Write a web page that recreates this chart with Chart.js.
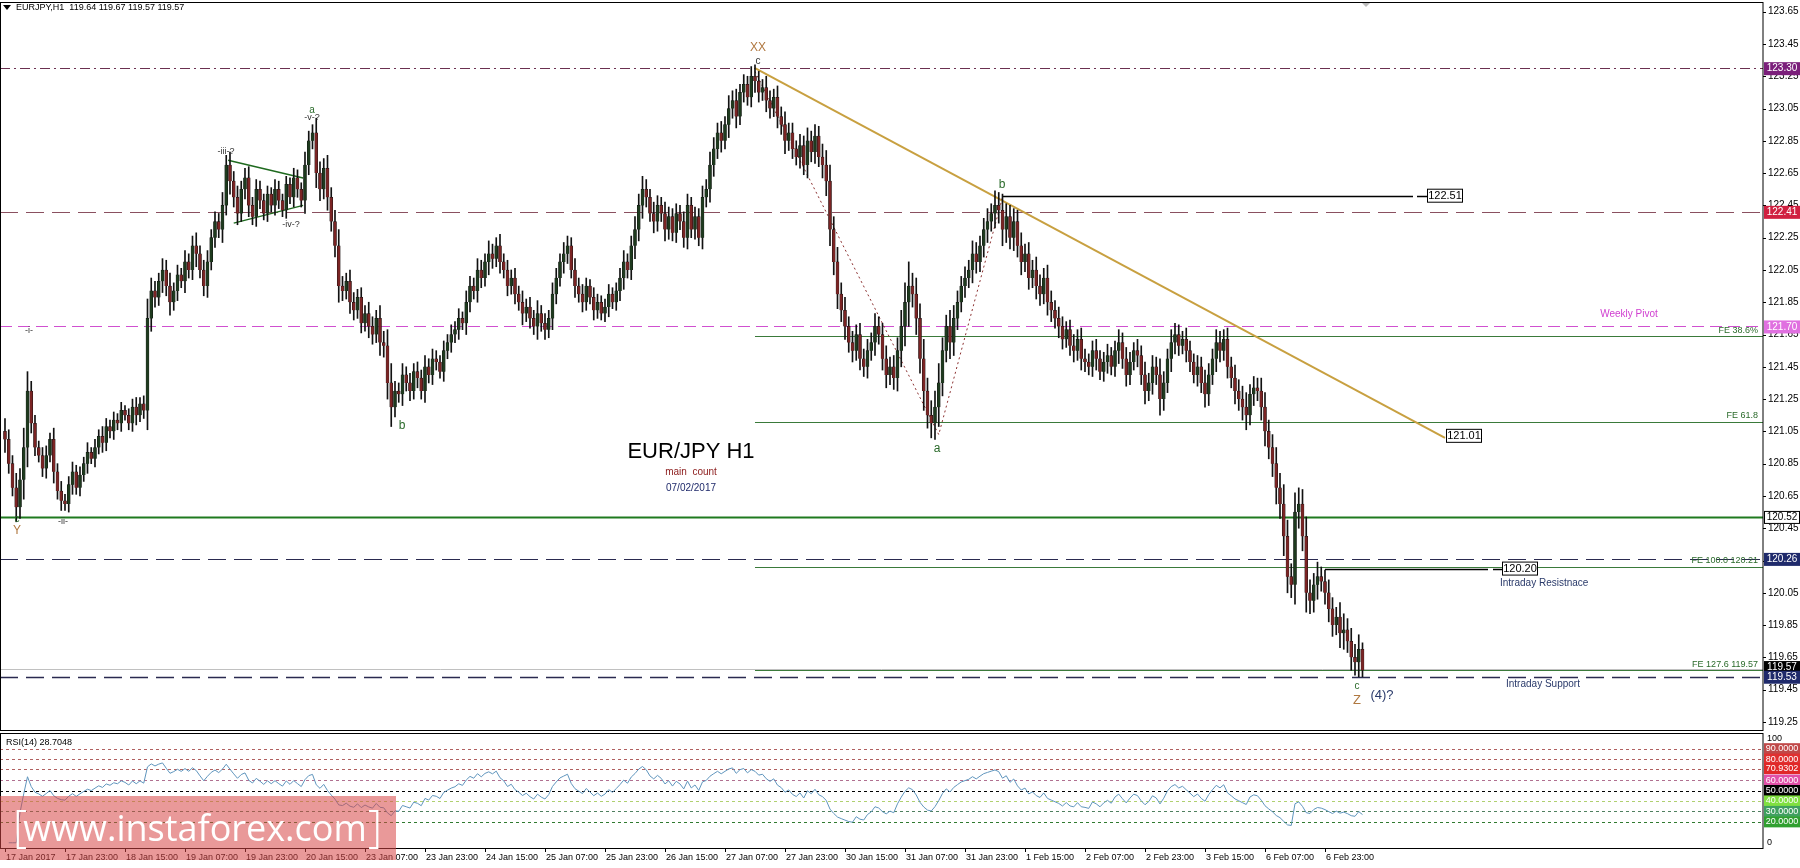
<!DOCTYPE html>
<html><head><meta charset="utf-8">
<script src="https://cdn.jsdelivr.net/npm/chart.js@4"></script>
<style>html,body{margin:0;padding:0;background:#fff;overflow:hidden}canvas{position:absolute;left:0}</style>
</head><body>
<canvas id="main" width="1800" height="733" style="top:0"></canvas>
<canvas id="rsi" width="1800" height="135" style="top:733px"></canvas>
<script>
const closes=[121.00,120.85,120.70,120.58,120.75,120.95,121.30,121.10,120.95,120.90,
120.82,120.90,121.00,120.80,120.68,120.62,120.60,120.72,120.80,120.70,
120.78,120.85,120.92,120.88,120.95,121.02,120.98,121.08,121.05,121.12,
121.10,121.18,121.15,121.10,121.20,121.15,121.22,121.18,121.75,121.92,
121.88,121.98,122.05,121.95,121.85,121.92,122.02,121.98,122.10,122.05,
122.20,122.15,122.05,121.95,122.10,122.25,122.35,122.30,122.45,122.70,
122.60,122.50,122.40,122.55,122.62,122.45,122.38,122.55,122.48,122.40,
122.52,122.45,122.55,122.48,122.42,122.58,122.50,122.62,122.55,122.48,
122.70,122.85,122.90,122.65,122.55,122.68,122.50,122.35,122.20,121.95,
121.92,121.98,121.85,121.80,121.88,121.72,121.78,121.70,121.65,121.75,
121.60,121.58,121.35,121.20,121.30,121.28,121.40,121.35,121.30,121.42,
121.38,121.30,121.45,121.40,121.50,121.48,121.42,121.55,121.60,121.65,
121.68,121.75,121.72,121.85,121.95,121.92,122.05,122.00,122.10,122.15,
122.12,122.20,122.10,122.05,121.95,122.00,121.90,121.85,121.78,121.82,
121.75,121.70,121.78,121.72,121.68,121.75,121.90,122.00,122.10,122.15,
122.20,122.05,121.95,121.90,121.85,121.95,121.88,121.80,121.85,121.78,
121.82,121.90,121.85,121.92,122.00,122.10,122.05,122.20,122.30,122.45,
122.55,122.50,122.40,122.35,122.45,122.40,122.30,122.38,122.28,122.40,
122.35,122.25,122.45,122.30,122.38,122.25,122.50,122.55,122.70,122.80,
122.90,122.85,122.95,123.05,123.10,123.00,123.15,123.20,123.12,123.25,
123.22,123.15,123.18,123.10,123.05,123.12,123.00,122.95,122.85,122.90,
122.80,122.75,122.82,122.70,122.85,122.78,122.88,122.75,122.70,122.60,
122.30,122.10,121.90,121.80,121.70,121.60,121.55,121.65,121.50,121.45,
121.55,121.60,121.70,121.65,121.50,121.40,121.45,121.38,121.55,121.70,
121.85,121.95,121.90,121.75,121.50,121.30,121.15,121.10,121.20,121.35,
121.55,121.70,121.60,121.75,121.85,121.95,122.00,122.05,122.15,122.10,
122.20,122.30,122.35,122.40,122.45,122.42,122.30,122.38,122.25,122.35,
122.20,122.10,122.15,122.00,122.05,121.95,121.90,122.00,121.85,121.80,
121.75,121.70,121.62,121.68,121.58,121.55,121.62,121.50,121.48,121.45,
121.55,121.50,121.42,121.48,121.52,121.45,121.55,121.60,121.50,121.40,
121.48,121.55,121.52,121.40,121.30,121.35,121.45,121.40,121.25,121.35,
121.50,121.60,121.65,121.58,121.62,121.55,121.48,121.40,121.45,121.35,
121.28,121.40,121.50,121.60,121.55,121.62,121.45,121.38,121.30,121.25,
121.20,121.15,121.28,121.32,121.30,121.20,121.05,120.95,120.85,120.70,
120.60,120.40,120.15,120.10,120.55,120.60,120.40,120.05,120.00,120.10,
120.15,120.12,120.05,119.95,119.85,119.90,119.80,119.82,119.75,119.65,
119.62,119.70,119.57];
const wicksPips=[8,6,5,9,7,12,12,6,5,4,5,6,4,7,5,6,4,5,6,4,5,4,6,3,5,4,6,5,4,5,
4,5,3,4,5,6,4,5,12,8,6,5,7,6,8,5,6,4,7,5,6,8,5,6,7,5,6,5,8,6,
8,6,7,5,6,7,5,6,5,4,5,4,6,5,4,5,4,6,5,4,8,6,5,9,7,6,8,6,7,10,
6,5,7,6,5,6,5,7,6,5,8,7,10,12,6,5,7,5,6,5,6,5,7,5,6,5,4,6,5,6,
5,6,4,7,6,5,7,6,5,8,6,5,7,5,6,5,6,5,7,5,6,5,8,5,6,5,7,6,5,7,
6,5,7,5,6,5,4,6,5,4,5,6,4,5,6,7,5,6,8,7,8,6,5,7,6,5,7,6,5,6,
5,6,7,5,6,5,7,6,8,7,6,7,5,8,6,7,5,6,5,6,7,6,5,7,6,5,7,6,8,6,
6,5,7,6,8,6,7,6,8,9,10,8,9,7,8,6,7,6,7,6,7,6,8,6,7,8,6,7,8,10,
12,15,8,10,9,12,8,9,10,12,8,7,10,8,7,6,7,6,8,7,6,7,8,6,9,8,10,8,7,8,
7,8,6,7,6,8,7,6,8,7,6,7,6,5,6,7,6,7,6,5,6,7,5,6,7,5,6,8,6,7,
6,5,7,6,8,6,7,6,10,7,6,8,7,6,5,7,6,5,7,6,8,7,6,8,7,6,7,6,8,7,
8,9,6,7,6,8,9,7,8,10,9,12,10,8,12,10,9,12,8,7,9,6,7,8,7,6,9,10,7,8,8,9,4];
const firstOpen=121.05;
const dateLabels=['17 Jan 2017','17 Jan 23:00','18 Jan 15:00','19 Jan 07:00','19 Jan 23:00','20 Jan 15:00','23 Jan 07:00','23 Jan 23:00','24 Jan 15:00','25 Jan 07:00','25 Jan 23:00','26 Jan 15:00','27 Jan 07:00','27 Jan 23:00','30 Jan 15:00','31 Jan 07:00','31 Jan 23:00','1 Feb 15:00','2 Feb 07:00','2 Feb 23:00','3 Feb 15:00','6 Feb 07:00','6 Feb 23:00'];
const priceTicks=[123.65,123.45,123.25,123.05,122.85,122.65,122.45,122.25,122.05,121.85,121.65,121.45,121.25,121.05,120.85,120.65,120.45,120.25,120.05,119.85,119.65,119.45,119.25];
const rsiLevels=[90,80,70.9302,60,50,40,30,20];

const opens=closes.map((c,i)=>i===0?firstOpen:closes[i-1]);
const highs=closes.map((c,i)=>Math.max(c,opens[i])+wicksPips[i]/100);
const lows=closes.map((c,i)=>Math.min(c,opens[i])-wicksPips[i]/100);
const rsi=[];let ag=0,al=0;
for(let i=0;i<closes.length;i++){
  if(i===0){rsi.push(null);continue;}
  const d=closes[i]-closes[i-1],g=Math.max(d,0),l=Math.max(-d,0);
  const n=Math.min(i,14);ag=(ag*(n-1)+g)/n;al=(al*(n-1)+l)/n;
  rsi.push(al===0?100:100-100/(1+ag/al));
}
const XMIN=-1.33,XMAX=468.8;
const SM='9px "Liberation Sans", Arial, sans-serif';
const AX='10px "Liberation Sans", Arial, sans-serif';
const MD='10px "Liberation Sans", Arial, sans-serif';
Chart.defaults.font.family='"Liberation Sans", Arial, sans-serif';

function txt(ctx,s,x,y,color,font,align){ctx.save();ctx.font=font||MD;ctx.fillStyle=color;ctx.textAlign=align||'center';ctx.textBaseline='middle';ctx.fillText(s,x,y);ctx.restore();}
function tag(ctx,s,y,bg,fg,border){ctx.save();ctx.fillStyle=bg;ctx.fillRect(1764,y-6,36,13);if(border){ctx.strokeStyle=border;ctx.strokeRect(1764.5,y-5.5,35,12);}txt(ctx,s,1782,y+0.5,fg,'10px "Liberation Sans", Arial');ctx.restore();}
function boxLabel(ctx,s,x,y){ctx.save();ctx.fillStyle='#fff';ctx.fillRect(x,y-7,36,14);ctx.strokeStyle='#000';ctx.lineWidth=1;ctx.strokeRect(x+0.5,y-6.5,35,13);txt(ctx,s,x+18,y+0.5,'#000','11px "Liberation Sans", Arial');ctx.restore();}

const mainOverlay={id:'mainOverlay',
 beforeDatasetsDraw(ch){
  const ctx=ch.ctx,x=ch.scales.x,y=ch.scales.y,a=ch.chartArea;
  const L=a.left,R=a.right;
  function hl(p,col,w,dash,x0,x1){ctx.save();ctx.strokeStyle=col;ctx.lineWidth=w;ctx.setLineDash(dash||[]);const yy=Math.round(y.getPixelForValue(p))+0.5;ctx.beginPath();ctx.moveTo(x0??L,yy);ctx.lineTo(x1??R,yy);ctx.stroke();ctx.restore();}
  const fx=x.getPixelForValue(200);
  hl(123.30,'#6b3050',1,[10,4,2,4]);
  hl(122.41,'#8a5060',1,[18,8]);
  hl(121.70,'#d050d0',1,[12,6]);
  hl(121.64,'#3a7a3a',1,[],fx);
  hl(121.11,'#3a7a3a',1,[],fx);
  hl(120.52,'#1f7a1f',2,[]);
  hl(120.26,'#2a2a50',1,[18,8]);
  hl(120.21,'#3a7a3a',1,[],fx);
  hl(119.58,'#c0c0c0',1,[]);
  hl(119.57,'#3a7a3a',1,[],fx);
  hl(119.53,'#2a2a50',1.5,[18,8]);
  hl(122.51,'#000',1.5,[],x.getPixelForValue(266),1413);
  hl(122.51,'#000',1.5,[],1417,1427);
  hl(120.20,'#000',1.5,[],x.getPixelForValue(352),1488);
  hl(120.20,'#000',1.5,[],1493,1502);
  ctx.save();ctx.strokeStyle='#c8a040';ctx.lineWidth=2;ctx.beginPath();ctx.moveTo(x.getPixelForValue(200),y.getPixelForValue(123.30));ctx.lineTo(x.getPixelForValue(384),y.getPixelForValue(121.01));ctx.stroke();
  ctx.strokeStyle='#8b3030';ctx.lineWidth=1;ctx.setLineDash([2,3]);ctx.beginPath();ctx.moveTo(x.getPixelForValue(200),y.getPixelForValue(123.28));ctx.lineTo(x.getPixelForValue(249),y.getPixelForValue(121.03));ctx.lineTo(x.getPixelForValue(266),y.getPixelForValue(122.50));ctx.stroke();
  ctx.setLineDash([]);ctx.strokeStyle='#1f6a1f';ctx.lineWidth=1.5;ctx.beginPath();
  ctx.moveTo(x.getPixelForValue(59.5),y.getPixelForValue(122.73));ctx.lineTo(x.getPixelForValue(79.5),y.getPixelForValue(122.62));
  ctx.moveTo(x.getPixelForValue(61),y.getPixelForValue(122.34));ctx.lineTo(x.getPixelForValue(79.5),y.getPixelForValue(122.45));ctx.stroke();
  ctx.restore();
 },
 afterDraw(ch){
  const ctx=ch.ctx,x=ch.scales.x,y=ch.scales.y,a=ch.chartArea;
  ctx.save();ctx.strokeStyle='#000';ctx.lineWidth=1;ctx.strokeRect(0.5,a.top+0.5,a.right-0.5,a.bottom-a.top);ctx.restore();
  ctx.save();ctx.fillStyle='#fff';ctx.fillRect(a.right+1,0,40,733);ctx.restore();
  priceTicks.forEach(p=>{const yy=y.getPixelForValue(p);ctx.fillStyle='#000';ctx.fillRect(a.right,Math.round(yy),3,1);txt(ctx,p.toFixed(2),a.right+5,yy,'#000',AX,'left');});
  const R=a.right;
  function T(p,s,bg,fg,b){tag(ctx,s,y.getPixelForValue(p),bg,fg,b);}
  T(123.30,'123.30','#7b1f7b','#fff');
  T(122.41,'122.41','#d02040','#fff');
  T(121.70,'121.70','#e070e0','#fff');
  T(120.52,'120.52','#fff','#000','#000');
  T(120.26,'120.26','#1f2a6b','#fff');
  T(119.59,'119.57','#000','#fff');
  T(119.53,'119.53','#1f2a6b','#fff');
  const g='#2a6a2a';
  txt(ctx,'FE 38.6%',R-5,y.getPixelForValue(121.64)-6,g,SM,'right');
  txt(ctx,'FE 61.8',R-5,y.getPixelForValue(121.11)-6,g,SM,'right');
  txt(ctx,'FE 100.0 120.21',R-5,y.getPixelForValue(120.21)-6,g,SM,'right');
  txt(ctx,'FE 127.6 119.57',R-5,y.getPixelForValue(119.57)-6,g,SM,'right');
  txt(ctx,'Weekly Pivot',1629,314,'#d040d0',MD);
  txt(ctx,'Intraday Resistnace',1500,583,'#2a3a6a',MD,'left');
  txt(ctx,'Intraday Support',1506,684,'#2a3a6a',MD,'left');
  boxLabel(ctx,'122.51',1427,y.getPixelForValue(122.51));
  boxLabel(ctx,'120.20',1502,y.getPixelForValue(120.20));
  boxLabel(ctx,'121.01',1446,y.getPixelForValue(121.01)-2);
  const br='#b07840',dk='#333';
  txt(ctx,'XX',758,48,br,'12px "Liberation Sans", Arial');
  txt(ctx,'c',758,61,dk);
  txt(ctx,'a',312,110,g);txt(ctx,'-v-?',312,118,dk,SM);
  txt(ctx,'-iii-?',226,152,dk,SM);
  txt(ctx,'-iv-?',291,225,dk,SM);
  txt(ctx,'-i-',29,331,dk,SM);
  txt(ctx,'-ii-',63,522,dk,SM);
  txt(ctx,'c',17,519,g);txt(ctx,'Y',17,531,br,'12px "Liberation Sans", Arial');
  txt(ctx,'b',402,426,g,'12px "Liberation Sans", Arial');
  txt(ctx,'a',937,449,g,'12px "Liberation Sans", Arial');
  txt(ctx,'b',1002,185,g,'12px "Liberation Sans", Arial');
  txt(ctx,'c',1357,686,g);txt(ctx,'Z',1357,700,br,'13px "Liberation Sans", Arial');
  txt(ctx,'(4)?',1382,695,'#2a3a6a','13px "Liberation Sans", Arial');
  txt(ctx,'EUR/JPY H1',691,452,'#000','22px "Liberation Sans", Arial');
  txt(ctx,'main  count',691,472,'#8b1a1a',MD);
  txt(ctx,'07/02/2017',691,488,'#1f2a6b',MD);
  ctx.save();ctx.fillStyle='#000';ctx.beginPath();ctx.moveTo(3,5);ctx.lineTo(11,5);ctx.lineTo(7,10);ctx.closePath();ctx.fill();ctx.restore();
  txt(ctx,'EURJPY,H1  119.64 119.67 119.57 119.57',16,8,'#000',SM,'left');
  ctx.save();ctx.fillStyle='#bbb';ctx.beginPath();ctx.moveTo(1362,3);ctx.lineTo(1370,3);ctx.lineTo(1366,7);ctx.closePath();ctx.fill();ctx.restore();
 }};

const idx=closes.map((_,i)=>i);
new Chart(document.getElementById('main'),{
 type:'bar',
 data:{datasets:[
  {data:idx.map(i=>({x:i,y:[lows[i],highs[i]]})),backgroundColor:'#111',barThickness:1,grouped:false,order:2},
  {data:idx.map(i=>({x:i,y:[Math.min(opens[i],closes[i]),Math.max(opens[i],closes[i])+(opens[i]===closes[i]?0.005:0)]})),
   backgroundColor:idx.map(i=>closes[i]>=opens[i]?'#1e3a1e':'#7a2424'),borderColor:'#111',borderWidth:0.5,barThickness:3,grouped:false,order:1}
 ]},
 options:{responsive:false,animation:false,devicePixelRatio:1,
  layout:{padding:{left:0,right:37,top:2,bottom:3}},
  plugins:{legend:{display:false},tooltip:{enabled:false}},
  scales:{x:{type:'linear',offset:false,min:XMIN,max:XMAX,display:false},
          y:{min:119.20,max:123.71,display:false}}},
 plugins:[mainOverlay]});

const rsiColors={90:['#b06060','#c04848'],80:['#b06060','#e03030'],70.9302:['#b06060','#e02828'],60:['#b07090','#e050a8'],50:['#000','#000'],40:['#b0d070','#80e040'],30:['#508060','#40a060'],20:['#307a30','#30a030']};
const rsiOverlay={id:'rsiOverlay',
 beforeDatasetsDraw(ch){const ctx=ch.ctx,y=ch.scales.y,a=ch.chartArea;
  rsiLevels.forEach(l=>{ctx.save();ctx.strokeStyle=rsiColors[l][0];ctx.setLineDash([3,3]);ctx.lineWidth=1;const yy=Math.round(y.getPixelForValue(l))+0.5;ctx.beginPath();ctx.moveTo(a.left,yy);ctx.lineTo(a.right,yy);ctx.stroke();ctx.restore();});},
 afterDraw(ch){const ctx=ch.ctx,x=ch.scales.x,y=ch.scales.y,a=ch.chartArea;
  ctx.save();ctx.fillStyle='#fff';ctx.fillRect(a.right+1,0,40,135);ctx.strokeStyle='#000';ctx.lineWidth=1;ctx.strokeRect(0.5,a.top+0.5,a.right-0.5,a.bottom-a.top);ctx.restore();
  txt(ctx,'RSI(14) 28.7048',6,y.getPixelForValue(96),'#000',SM,'left');
  txt(ctx,'100',a.right+4,y.getPixelForValue(100),'#000',SM,'left');
  txt(ctx,'0',a.right+4,y.getPixelForValue(0),'#000',SM,'left');
  rsiLevels.forEach(l=>{const yy=y.getPixelForValue(l);ctx.fillStyle=rsiColors[l][1];ctx.fillRect(a.right+1,yy-5.5,36,11);txt(ctx,l.toFixed(4),a.right+19,yy,'#fff',SM);});
  dateLabels.forEach((s,i)=>{const xx=x.getPixelForValue(i*16);ctx.fillStyle='#000';ctx.fillRect(Math.round(xx),a.bottom,1,4);txt(ctx,s,xx+1,a.bottom+10,'#000',SM,'left');});
  ctx.save();ctx.fillStyle='rgba(215,70,70,0.55)';ctx.fillRect(0,63,396,64);
  txt(ctx,'[',20,96,'#fff','300 44px "Open Sans", "Liberation Sans", Arial');
  txt(ctx,'www.instaforex.com',195,98,'#fff','36px "Open Sans", "Liberation Sans", Arial');
  txt(ctx,']',375,96,'#fff','300 44px "Open Sans", "Liberation Sans", Arial');ctx.restore();
 }};
new Chart(document.getElementById('rsi'),{
 type:'line',
 data:{datasets:[{data:idx.map(i=>({x:i,y:rsi[i]})),borderColor:'#5f95bd',borderWidth:1,pointRadius:0,tension:0}]},
 options:{responsive:false,animation:false,devicePixelRatio:1,
  layout:{padding:{left:0,right:37,top:0,bottom:20}},
  plugins:{legend:{display:false},tooltip:{enabled:false}},
  scales:{x:{type:'linear',min:XMIN,max:XMAX,display:false},y:{min:-5,max:105,display:false}}},
 plugins:[rsiOverlay]});
</script></body></html>
